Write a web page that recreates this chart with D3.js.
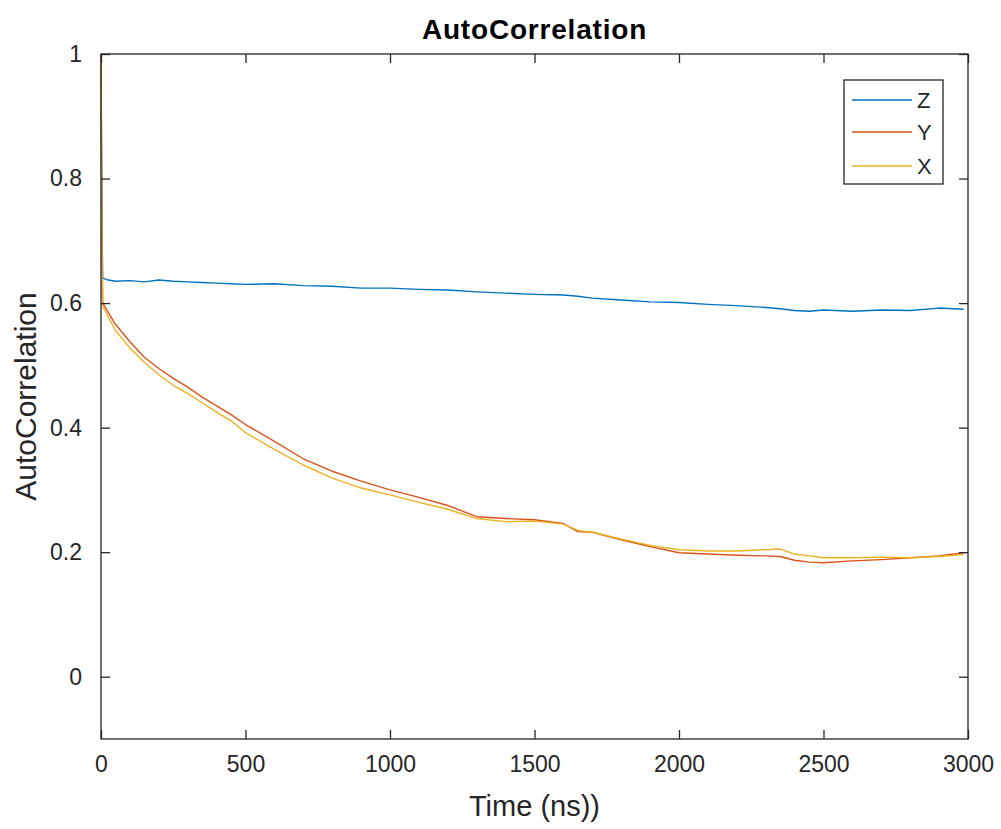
<!DOCTYPE html>
<html>
<head>
<meta charset="utf-8">
<script src="https://cdn.jsdelivr.net/npm/d3@7"></script>
<style>
  html, body { margin: 0; padding: 0; background: #fff; }
  svg text { font-family: "Liberation Sans", Arial, Helvetica, sans-serif; fill: #262626; }
</style>
</head>
<body>
<svg id="chart" width="1001" height="829"></svg>
<script>
// ---- Data ----
const times = [0, 2, 4, 6, 25, 50, 100, 150, 200, 250, 300, 350, 400, 450, 500, 600, 700, 800, 900, 1000,
  1100, 1200, 1300, 1400, 1500, 1600, 1650, 1700, 1800, 1900, 2000, 2100, 2200, 2300, 2350, 2400, 2450,
  2500, 2600, 2700, 2800, 2900, 2985];

const zValues = [1.0, 0.85, 0.70, 0.64, 0.637, 0.635, 0.636, 0.634, 0.637, 0.635, 0.634, 0.633, 0.632, 0.631, 0.630,
  0.631, 0.628, 0.627, 0.624, 0.624, 0.622, 0.621, 0.618, 0.616, 0.614, 0.613, 0.611, 0.608, 0.605, 0.602, 0.601,
  0.598, 0.596, 0.593, 0.591, 0.588, 0.587, 0.589, 0.587, 0.589, 0.588, 0.592, 0.590];

const yValues = [1.0, 0.80, 0.66, 0.60, 0.585, 0.566, 0.538, 0.513, 0.495, 0.479, 0.465, 0.449, 0.435, 0.421, 0.405,
  0.378, 0.350, 0.330, 0.314, 0.300, 0.288, 0.275, 0.257, 0.254, 0.252, 0.246, 0.233, 0.232, 0.220, 0.209, 0.199,
  0.197, 0.195, 0.194, 0.193, 0.187, 0.184, 0.183, 0.186, 0.188, 0.191, 0.194, 0.199];

const xValues = [1.0, 0.78, 0.65, 0.595, 0.578, 0.556, 0.528, 0.505, 0.485, 0.468, 0.455, 0.440, 0.425, 0.411, 0.392,
  0.365, 0.340, 0.319, 0.303, 0.292, 0.280, 0.269, 0.254, 0.249, 0.250, 0.245, 0.235, 0.232, 0.221, 0.211, 0.204,
  0.202, 0.202, 0.204, 0.205, 0.197, 0.194, 0.191, 0.191, 0.192, 0.191, 0.193, 0.196];

const seriesNames = ["Z", "Y", "X"];
const seriesColors = ["#0072BD", "#D95319", "#EDB120"];
const xTicks = [0, 500, 1000, 1500, 2000, 2500, 3000];
const yTicks = [0, 0.2, 0.4, 0.6, 0.8, 1];

// ---- Layout ----
const svg = d3.select("#chart");
const pLeft = 101, pRight = 968, pTop = 54, pBottom = 739;
const x = d3.scaleLinear().domain([0, 3000]).range([pLeft, pRight]);
const y = d3.scaleLinear().domain([-0.1, 1]).range([pBottom, pTop]);
const axisColor = "#262626";
const tickLen = 9;

// series lines
const series = [zValues, yValues, xValues];
const line = d3.line().x((d, i) => x(times[i])).y(d => y(d));
const plot = svg.append("g");
series.forEach((vals, k) => {
  plot.append("path")
    .datum(vals)
    .attr("fill", "none")
    .attr("stroke", seriesColors[k])
    .attr("stroke-width", 1.4)
    .attr("stroke-linejoin", "round")
    .attr("d", line);
});

// axes (box with mirrored inward ticks)
function styleAxis(g) {
  g.select(".domain").remove();
  g.selectAll(".tick line").attr("stroke", axisColor).attr("stroke-width", 1.3);
  g.selectAll(".tick text").attr("fill", axisColor).style("font-size", "23px");
}
const fmtY = d => (d === 0 || d === 1) ? String(d) : d3.format(".1f")(d);

svg.append("g").attr("transform", `translate(0,${pBottom})`)
  .call(d3.axisBottom(x).tickValues(xTicks).tickSize(-tickLen).tickPadding(17).tickFormat(d3.format("d")))
  .call(styleAxis);
svg.append("g").attr("transform", `translate(0,${pTop})`)
  .call(d3.axisTop(x).tickValues(xTicks).tickSize(-tickLen).tickFormat(""))
  .call(styleAxis);
svg.append("g").attr("transform", `translate(${pLeft},0)`)
  .call(d3.axisLeft(y).tickValues(yTicks).tickSize(-tickLen).tickPadding(19).tickFormat(fmtY))
  .call(styleAxis);
svg.append("g").attr("transform", `translate(${pRight},0)`)
  .call(d3.axisRight(y).tickValues(yTicks).tickSize(-tickLen).tickFormat(""))
  .call(styleAxis);

svg.append("rect")
  .attr("x", pLeft).attr("y", pTop)
  .attr("width", pRight - pLeft).attr("height", pBottom - pTop)
  .attr("fill", "none").attr("stroke", axisColor).attr("stroke-width", 1.3);

// title and labels
svg.append("text")
  .attr("x", (pLeft + pRight) / 2).attr("y", 39)
  .attr("text-anchor", "middle")
  .style("font-size", "28px").style("font-weight", "bold")
  .style("letter-spacing", "0.8px")
  .style("fill", "#000")
  .text("AutoCorrelation");

svg.append("text")
  .attr("x", (pLeft + pRight) / 2).attr("y", 816)
  .attr("text-anchor", "middle")
  .style("font-size", "29px")
  .text("Time (ns))");

svg.append("text")
  .attr("transform", `translate(36,${(pTop + pBottom) / 2}) rotate(-90)`)
  .attr("text-anchor", "middle")
  .style("font-size", "30px")
  .text("AutoCorrelation");

// legend
const lg = svg.append("g");
lg.append("rect")
  .attr("x", 844).attr("y", 80).attr("width", 99).attr("height", 104)
  .attr("fill", "#fff").attr("stroke", axisColor).attr("stroke-width", 1.3);
const rowY = [100, 132, 166];
seriesNames.forEach((name, k) => {
  lg.append("line")
    .attr("x1", 852).attr("x2", 912)
    .attr("y1", rowY[k]).attr("y2", rowY[k])
    .attr("stroke", seriesColors[k]).attr("stroke-width", 1.4);
  lg.append("text")
    .attr("x", 917).attr("y", rowY[k])
    .attr("dy", "0.35em")
    .style("font-size", "22px")
    .text(name);
});
</script>
</body>
</html>
